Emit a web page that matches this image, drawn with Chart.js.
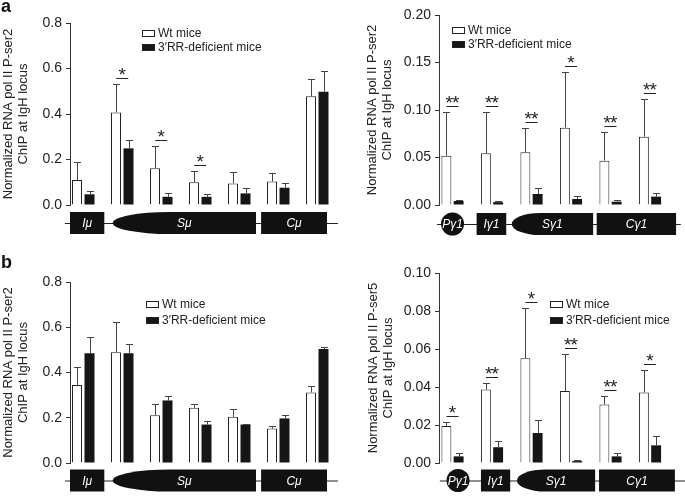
<!DOCTYPE html>
<html lang="en">
<head>
<meta charset="UTF-8">
<title>RNA pol II ChIP at the IgH locus</title>
<style>
  body { margin: 0; background: #fff; }
  #wrap { position: relative; width: 685px; height: 496px; overflow: hidden; }
  canvas { position: absolute; }
  .tag { position: absolute; font: bold 18px "Liberation Sans", Arial, sans-serif; line-height: 18px; color: #111; }
</style>
</head>
<body>
<div id="wrap">
  <canvas id="chartA1" width="342" height="240" style="left:0;top:0"></canvas>
  <canvas id="chartA2" width="343" height="240" style="left:342px;top:0"></canvas>
  <canvas id="chartB1" width="342" height="256" style="left:0;top:240px"></canvas>
  <canvas id="chartB2" width="343" height="256" style="left:342px;top:240px"></canvas>
  <div class="tag" style="left:1px;top:-3px">a</div>
  <div class="tag" style="left:1px;top:253px">b</div>
</div>

<script src="https://cdn.jsdelivr.net/npm/chart.js"></script>
<script>
const seriesNames = ['Wt mice', '3\u2032RR-deficient mice'];

// primer positions along each locus
const muSites = ['1', '2', '3', '4', '5', '6', '7'];
const gammaSites = ['1', '2', '3', '4', '5', '6'];

// tick labels
const ticksMu = ['0.0', '0.2', '0.4', '0.6', '0.8'];
const ticksA2 = ['0.00', '0.05', '0.10', '0.15', '0.20'];
const ticksB2 = ['0.00', '0.02', '0.04', '0.06', '0.08', '0.10'];

// a, left: P-ser2 over Smu
const aLeftWt = [0.11, 0.407, 0.162, 0.10, 0.095, 0.103, 0.478];
const aLeftWtSem = [0.08, 0.123, 0.098, 0.049, 0.051, 0.036, 0.074];
const aLeftKo = [0.047, 0.249, 0.036, 0.036, 0.051, 0.076, 0.498];
const aLeftKoSem = [0.013, 0.035, 0.018, 0.013, 0.022, 0.019, 0.09];
const aLeftStars = ['', '*', '*', '*', '', '', ''];

// a, right: P-ser2 over Sgamma1
const aRightWt = [0.0519, 0.0544, 0.0554, 0.0814, 0.0467, 0.0719];
const aRightWtSem = [0.046, 0.043, 0.0253, 0.0582, 0.0298, 0.0401];
const aRightKo = [0.0042, 0.003, 0.0116, 0.0063, 0.0035, 0.0088];
const aRightKoSem = [0.001, 0.0016, 0.0059, 0.0035, 0.0018, 0.0042];
const aRightStars = ['**', '**', '**', '*', '**', '**'];

// b, left: P-ser2 over Smu
const bLeftWt = [0.345, 0.489, 0.211, 0.244, 0.204, 0.152, 0.312];
const bLeftWtSem = [0.081, 0.136, 0.049, 0.016, 0.033, 0.011, 0.030];
const bLeftKo = [0.485, 0.485, 0.2765, 0.170, 0.170, 0.197, 0.504];
const bLeftKoSem = [0.074, 0.043, 0.0205, 0.016, 0.004, 0.017, 0.008];
const bLeftStars = ['', '', '', '', '', '', ''];

// b, right: P-ser5 over Sgamma1
const bRightWt = [0.0195, 0.0387, 0.0551, 0.0379, 0.0308, 0.0371];
const bRightWtSem = [0.002, 0.0036, 0.0264, 0.0195, 0.0044, 0.0118];
const bRightKo = [0.0035, 0.0083, 0.0158, 0.001, 0.0035, 0.0093];
const bRightKoSem = [0.0018, 0.0033, 0.0067, 0.0004, 0.002, 0.0048];
const bRightStars = ['*', '**', '*', '**', '**', '*'];

const FONT = '"Liberation Sans", Arial, sans-serif';
Chart.defaults.font.family = FONT;

// locus drawings under the bars, in x-scale units
const muMap = {
  from: -0.47, to: 6.53,
  parts: [
    { shape: 'box', from: -0.34, to: 0.54, label: 'I\u03bc' },
    { shape: 'switch', from: 0.755, to: 4.43, taper: 1.45, label: 'S\u03bc' },
    { shape: 'box', from: 4.56, to: 6.25, label: 'C\u03bc' }
  ]
};
const gammaMapA = {
  from: -0.39, to: 5.78,
  parts: [
    { shape: 'circle', from: 0, label: 'P\u03b31' },
    { shape: 'box', from: 0.61, to: 1.36, label: 'I\u03b31' },
    { shape: 'switch', from: 1.5, to: 3.56, taper: 0.72, label: 'S\u03b31' },
    { shape: 'box', from: 3.65, to: 5.66, label: 'C\u03b31' }
  ]
};
const gammaMapB = {
  from: -0.32, to: 5.9,
  parts: [
    { shape: 'circle', from: 0.14, label: 'P\u03b31' },
    { shape: 'box', from: 0.72, to: 1.46, label: 'I\u03b31' },
    { shape: 'switch', from: 1.63, to: 3.61, taper: 0.72, label: 'S\u03b31' },
    { shape: 'box', from: 3.71, to: 5.63, label: 'C\u03b31' }
  ]
};

const errorBars = {
  id: 'errorBars',
  afterDatasetsDraw(chart) {
    const ctx = chart.ctx;
    const y = chart.scales.y;
    ctx.save();
    ctx.strokeStyle = '#444';
    ctx.lineWidth = 1;
    chart.data.datasets.forEach((ds, d) => {
      chart.getDatasetMeta(d).data.forEach((bar, i) => {
        const top = Math.round(y.getPixelForValue(ds.data[i].y + ds.sem[i])) + 0.5;
        const x = Math.round(bar.x) + 0.5;
        ctx.beginPath();
        ctx.moveTo(x, bar.y);
        ctx.lineTo(x, top);
        ctx.moveTo(x - 3.5, top);
        ctx.lineTo(x + 3.5, top);
        ctx.stroke();
      });
    });
    ctx.restore();
  }
};

const sigMarks = {
  id: 'sigMarks',
  afterDatasetsDraw(chart, args, opts) {
    const { ctx, scales: { x, y } } = chart;
    const [wt, ko] = chart.data.datasets;
    ctx.save();
    ctx.strokeStyle = '#222';
    ctx.fillStyle = '#222';
    ctx.lineWidth = 1;
    ctx.font = '19px ' + FONT;
    ctx.textAlign = 'center';
    ctx.textBaseline = 'alphabetic';
    opts.stars.forEach((s, i) => {
      if (!s) return;
      const top = Math.min(
        y.getPixelForValue(wt.data[i].y + wt.sem[i]),
        y.getPixelForValue(ko.data[i].y + ko.sem[i]));
      const cx = x.getPixelForValue(i);
      const ly = Math.round(top - 6) + 0.5;
      ctx.beginPath();
      ctx.moveTo(cx - 6, ly);
      ctx.lineTo(cx + 6, ly);
      ctx.stroke();
      for (let k = 0; k < s.length; k++) {
        ctx.fillText('*', cx + (k - (s.length - 1) / 2) * 6.5, ly + 2.5);
      }
    });
    ctx.restore();
  }
};

const keyLegend = {
  id: 'keyLegend',
  afterDraw(chart, args, o) {
    const ctx = chart.ctx;
    ctx.save();
    ctx.font = '12px ' + FONT;
    ctx.textBaseline = 'middle';
    ctx.lineWidth = 1;
    chart.data.datasets.forEach((ds, i) => {
      const cy = Math.round(o.y + i * o.gap);
      ctx.fillStyle = ds.backgroundColor;
      ctx.fillRect(o.x, cy - 3, 13, 7);
      ctx.strokeStyle = '#222';
      ctx.strokeRect(o.x + 0.5, cy - 2.5, 12, 6);
      ctx.fillStyle = '#222';
      ctx.fillText(ds.label, o.x + 16, cy + 0.5);
    });
    ctx.restore();
  }
};

const locusMap = {
  id: 'locusMap',
  afterDraw(chart, args, o) {
    const ctx = chart.ctx;
    const x = chart.scales.x;
    const h = 22;
    const top = o.y - h / 2;
    ctx.save();
    ctx.strokeStyle = '#222';
    ctx.lineWidth = 1;
    ctx.beginPath();
    ctx.moveTo(x.getPixelForValue(o.map.from), o.y + 0.5);
    ctx.lineTo(x.getPixelForValue(o.map.to), o.y + 0.5);
    ctx.stroke();
    o.map.parts.forEach(p => {
      const x0 = x.getPixelForValue(p.from);
      let cx;
      ctx.fillStyle = '#111';
      ctx.beginPath();
      if (p.shape === 'circle') {
        ctx.arc(x0, o.y, 11.5, 0, Math.PI * 2);
        cx = x0;
      } else if (p.shape === 'switch') {
        const x1 = x.getPixelForValue(p.to);
        const tp = x.getPixelForValue(p.from + p.taper) - x0;
        ctx.moveTo(x1, top);
        ctx.lineTo(x0 + tp, top);
        ctx.ellipse(x0 + tp, o.y, tp, h / 2, 0, -Math.PI / 2, Math.PI / 2, true);
        ctx.lineTo(x1, top + h);
        ctx.closePath();
        cx = (x0 + x1) / 2;
      } else {
        const x1 = x.getPixelForValue(p.to);
        ctx.rect(x0, top, x1 - x0, h);
        cx = (x0 + x1) / 2;
      }
      ctx.fill();
      ctx.fillStyle = '#fff';
      ctx.font = 'italic 12px ' + FONT;
      ctx.textAlign = 'center';
      ctx.textBaseline = 'middle';
      ctx.fillText(p.label, cx, o.y + 1);
    });
    ctx.restore();
  }
};

function buildChart(canvasId, p) {
  const canvas = document.getElementById(canvasId);
  const xMin = -p.lead;
  const xMax = xMin + (canvas.width - p.axisX) / p.unit;
  return new Chart(canvas, {
    type: 'bar',
    data: {
      datasets: [
        {
          label: seriesNames[0],
          data: p.wt.map((v, i) => ({ x: i, y: v })),
          sem: p.wtSem,
          backgroundColor: '#ffffff',
          borderColor: '#222',
          borderWidth: 1,
          categoryPercentage: p.catPct,
          barPercentage: p.barPct
        },
        {
          label: seriesNames[1],
          data: p.ko.map((v, i) => ({ x: i, y: v })),
          sem: p.koSem,
          backgroundColor: '#161616',
          borderColor: '#161616',
          borderWidth: 0,
          categoryPercentage: p.catPct,
          barPercentage: p.barPct
        }
      ]
    },
    options: {
      responsive: false,
      animation: false,
      layout: { padding: { left: 0, right: 0, top: p.top, bottom: canvas.height - p.bottom } },
      scales: {
        x: {
          type: 'linear',
          min: xMin,
          max: xMax,
          offset: false,
          display: false,
          ticks: { stepSize: 1, includeBounds: false }
        },
        y: {
          min: 0,
          max: p.yMax,
          afterFit: s => { s.width = p.axisX; },
          ticks: {
            stepSize: p.step,
            padding: 4,
            color: '#222',
            font: { size: 14 },
            callback: (v, i) => p.ticks[i]
          },
          grid: { drawOnChartArea: false, tickLength: 4, color: '#333' },
          border: { color: '#333' },
          title: {
            display: true,
            text: p.title,
            color: '#222',
            font: { size: 13, lineHeight: 1.15 },
            padding: { top: p.titlePad, bottom: 0 }
          }
        }
      },
      plugins: {
        legend: { display: false },
        tooltip: { enabled: false },
        sigMarks: { stars: p.stars },
        keyLegend: p.legend,
        locusMap: { map: p.map, y: p.mapY }
      }
    },
    plugins: [errorBars, sigMarks, keyLegend, locusMap]
  });
}

const ser2Title = ['Normalized RNA pol II P-ser2', 'ChIP at IgH locus'];
const ser5Title = ['Normalized RNA pol II P-ser5', 'ChIP at IgH locus'];

buildChart('chartA1', {
  wt: aLeftWt, wtSem: aLeftWtSem, ko: aLeftKo, koSem: aLeftKoSem, stars: aLeftStars,
  ticks: ticksMu, yMax: 0.8, step: 0.2, title: ser2Title, map: muMap,
  axisX: 70, top: 23, bottom: 205, lead: 0.34, unit: 39, catPct: 0.641, barPct: 0.8,
  titlePad: 1, legend: { x: 142, y: 32.5, gap: 14.5 }, mapY: 223
});

buildChart('chartA2', {
  wt: aRightWt, wtSem: aRightWtSem, ko: aRightKo, koSem: aRightKoSem, stars: aRightStars,
  ticks: ticksA2, yMax: 0.2, step: 0.05, title: ser2Title, map: gammaMapA,
  axisX: 97, top: 15, bottom: 205, lead: 0.342, unit: 39.5, catPct: 0.62, barPct: 0.81,
  titlePad: 23, legend: { x: 110, y: 30, gap: 14 }, mapY: 224
});

buildChart('chartB1', {
  wt: bLeftWt, wtSem: bLeftWtSem, ko: bLeftKo, koSem: bLeftKoSem, stars: bLeftStars,
  ticks: ticksMu, yMax: 0.8, step: 0.2, title: ser2Title, map: muMap,
  axisX: 70, top: 42, bottom: 223, lead: 0.34, unit: 39, catPct: 0.641, barPct: 0.8,
  titlePad: 1, legend: { x: 146, y: 64.3, gap: 15.7 }, mapY: 240.5
});

buildChart('chartB2', {
  wt: bRightWt, wtSem: bRightWtSem, ko: bRightKo, koSem: bRightKoSem, stars: bRightStars,
  ticks: ticksB2, yMax: 0.1, step: 0.02, title: ser5Title, map: gammaMapB,
  axisX: 97, top: 33, bottom: 223, lead: 0.342, unit: 39.5, catPct: 0.62, barPct: 0.81,
  titlePad: 24, legend: { x: 208, y: 64.3, gap: 15.7 }, mapY: 240.5
});
</script>
</body>
</html>
